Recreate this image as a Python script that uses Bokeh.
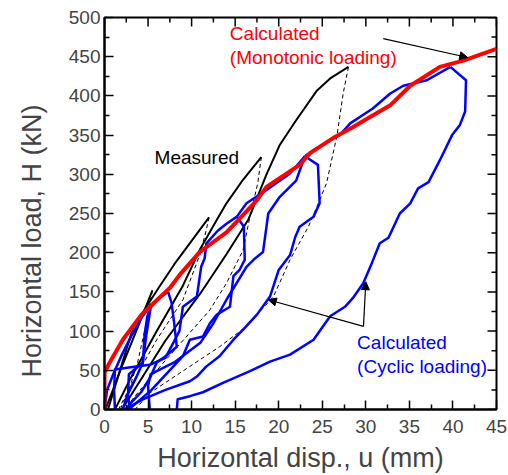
from bokeh.plotting import figure
from bokeh.models import Range1d, FixedTicker, Label, Arrow, NormalHead, Title
from bokeh.embed import file_html
from bokeh.resources import INLINE

# ---------------- data ----------------
x_ticks = [0, 5, 10, 15, 20, 25, 30, 35, 40, 45]
y_ticks = [0, 50, 100, 150, 200, 250, 300, 350, 400, 450, 500]

# Calculated (monotonic loading)
red_x = [0, 0, 0.6, 2.1, 4.25, 5.2, 7.5, 8.65, 10.95, 14.0, 15.9, 17.5, 18.6, 22.4, 23.6, 26.5, 28.5, 30.0, 32.8, 35.1, 38.5, 41.2, 45.0]
red_y = [0, 47, 60, 89, 121, 131, 155, 172, 201, 226, 248, 267, 284, 312, 327, 348, 360, 370, 388, 413, 437, 445, 460]

# Measured: loading branches (solid)
m1_x = [0.1, 2.0, 4.0, 5.5]
m1_y = [0, 55, 110, 152]
m2_x = [0.4, 1.5, 3.3, 6.2, 8.0, 10.0, 12.0]
m2_y = [0, 40, 105, 155, 185, 215, 245]
m3_x = [1.2, 3.0, 6.0, 9.0, 11.0, 12.9, 14.0, 15.9, 18.0]
m3_y = [0, 40, 100, 158, 205, 242, 263, 293, 322]
m4_x = [2.0, 4.0, 7.0, 11.0, 14.0, 16.5, 18.6, 20.1, 22.0, 24.4, 26.0, 28.0]
m4_y = [0, 35, 88, 148, 198, 242, 300, 337, 369, 407, 423, 437]

# Measured: unloading branches (dashed)
d1_x = [5.5, 4.8, 3.8, 2.8, 1.8]
d1_y = [152, 110, 60, 25, 0]
d2_x = [12.0, 11.7, 11.0, 9.0, 6.0, 3.0, 1.6]
d2_y = [245, 230, 199, 140, 89, 30, 0]
d3_x = [18.0, 17.6, 16.7, 15.9, 14.0, 12.1, 9.8, 7.1, 4.4, 3.2, 2.5]
d3_y = [322, 289, 246, 203, 161, 127, 98, 64, 29, 13, 0]
d4_x = [28.0, 27.4, 26.7, 25.5, 24.4, 23.4, 21.3, 19.4, 16.3, 13.2, 9.8, 5.2, 3.5]
d4_y = [437, 403, 350, 289, 259, 233, 191, 144, 106, 80, 55, 21, 0]

# Calculated (cyclic loading) branches
c1_x = [0, 0.3, 1.0, 2.0, 3.0, 4.3, 5.3]
c1_y = [0, 25, 45, 70, 92, 118, 132]
c2_x = [5.3, 4.9, 4.6, 4.4, 3.6, 2.6, 2.1]
c2_y = [132, 118, 95, 60, 40, 18, 0]
c3_x = [2.9, 2.7, 2.8, 4.4, 4.8, 5.3, 6.2, 7.3]
c3_y = [0, 20, 45, 60, 95, 130, 142, 150]
c4_x = [7.3, 7.7, 8.0, 8.3, 7.0, 6.0, 5.2, 4.2, 3.0, 2.4]
c4_y = [150, 136, 110, 80, 68, 60, 40, 22, 8, 0]
c5_x = [1.2, 1.1, 1.2, 3.0, 5.2, 7.0, 8.6, 9.0, 10.6, 11.1, 11.5, 11.7, 13.0, 14.0, 15.2]
c5_y = [0, 25, 51, 54, 57, 66, 100, 131, 144, 182, 193, 212, 228, 237, 246]
c6_x = [15.2, 16.0, 16.1, 15.5, 14.8, 14.4, 12.9, 12.1, 11.3, 9.8, 9.0, 5.4, 3.1, 3.0]
c6_y = [246, 233, 191, 178, 170, 131, 121, 110, 93, 89, 68, 25, 3, 0]
c7_x = [15.2, 16.3, 18.6, 21.3, 23.0]
c7_y = [246, 263, 280, 301, 323]
c8_x = [23.0, 24.5, 24.7, 24.0, 22.4, 21.9, 21.3, 20.0, 19.0, 17.5, 16.1, 14.8, 13.2, 11.7, 10.6, 9.8, 7.0, 4.4, 2.3]
c8_y = [323, 312, 263, 246, 233, 220, 197, 178, 144, 121, 104, 89, 68, 55, 42, 36, 25, 13, 0]
c9_x = [5.2, 5.0, 5.3, 8.0, 11.0, 12.5, 14.0, 16.3, 17.1, 18.2, 18.8, 20.1, 22.0, 23.0]
c9_y = [0, 30, 45, 60, 85, 110, 140, 182, 191, 201, 250, 271, 292, 323]
c10_x = [23.0, 24.0, 25.5, 27.0, 28.2, 30.8, 32.8, 34.3, 37.0, 39.7]
c10_y = [323, 331, 341, 350, 365, 384, 403, 413, 420, 437]
c11_x = [39.7, 41.5, 41.4, 40.8, 39.9, 38.5, 37.2, 36.0, 35.1, 33.9, 32.6, 31.6, 30.7, 29.7, 28.5, 27.6, 25.9, 24.0, 21.3, 19.0, 16.7, 13.6, 11.3, 9.8, 8.4, 8.3]
c11_y = [437, 420, 380, 363, 350, 318, 290, 282, 263, 250, 219, 212, 187, 161, 142, 131, 119, 89, 70, 61, 49, 34, 22, 17, 13, 0]

x_title = "Horizontal disp., u (mm)"
y_title = "Horizontal load, H (kN)"

FONT = "Liberation Sans"

p = figure(width=508, height=475, x_range=Range1d(0, 45), y_range=Range1d(0, 500),
           output_backend="svg", toolbar_location=None,
           min_border_left=104, min_border_right=12, min_border_top=17, min_border_bottom=65)
p.xgrid.visible = False
p.ygrid.visible = False
p.outline_line_color = "black"
p.outline_line_width = 2
p.background_fill_color = "white"
p.border_fill_color = "white"

x_minor = [t + 2.5 for t in x_ticks[:-1]]
y_minor = [t + 25 for t in y_ticks[:-1]]

for ax, ticks, minor in [(p.xaxis[0], x_ticks, x_minor), (p.yaxis[0], y_ticks, y_minor)]:
    ax.ticker = FixedTicker(ticks=ticks, minor_ticks=minor)
    ax.major_tick_in = 9
    ax.major_tick_out = 0
    ax.minor_tick_in = 5
    ax.minor_tick_out = 0
    ax.major_tick_line_width = 1.5
    ax.minor_tick_line_width = 1.5
    ax.axis_line_width = 2
    ax.major_label_text_font = FONT
    ax.major_label_text_font_size = "19px"
    ax.axis_label_text_font = FONT
    ax.axis_label_text_font_size = "27px"
    ax.axis_label_text_font_style = "normal"
p.xaxis[0].major_label_standoff = 10
p.yaxis[0].major_label_standoff = 4
p.xaxis[0].axis_label = x_title
p.xaxis[0].axis_label_standoff = 7

# y title as a side title so it can be shifted along the axis
p.add_layout(Title(text=y_title, align="left", offset=32, standoff=33, vertical_align="top",
                   text_font=FONT, text_font_size="27px", text_font_style="normal"), "left")

# mirrored ticks on top and right edges
p.ray(x=x_ticks, y=500, length=9, angle=-90, angle_units="deg", length_units="screen",
      line_color="black", line_width=1.5)
p.ray(x=x_minor, y=500, length=5, angle=-90, angle_units="deg", length_units="screen",
      line_color="black", line_width=1.5)
p.ray(x=45, y=y_ticks, length=9, angle=180, angle_units="deg", length_units="screen",
      line_color="black", line_width=1.5)
p.ray(x=45, y=y_minor, length=5, angle=180, angle_units="deg", length_units="screen",
      line_color="black", line_width=1.5)

# measured
for xs, ys in [(m1_x, m1_y), (m2_x, m2_y), (m3_x, m3_y), (m4_x, m4_y)]:
    p.line(xs, ys, line_color="black", line_width=2, line_join="round")
for xs, ys in [(d1_x, d1_y), (d2_x, d2_y), (d3_x, d3_y), (d4_x, d4_y)]:
    p.line(xs, ys, line_color="black", line_width=1, line_dash="4 3")

# calculated cyclic
for xs, ys in [(c1_x, c1_y), (c2_x, c2_y), (c3_x, c3_y), (c4_x, c4_y), (c5_x, c5_y),
               (c6_x, c6_y), (c7_x, c7_y), (c8_x, c8_y), (c9_x, c9_y), (c10_x, c10_y),
               (c11_x, c11_y)]:
    p.line(xs, ys, line_color="#0000ff", line_width=2.5, line_join="round")

# calculated monotonic
p.line(red_x, red_y, line_color="#ff0000", line_width=4, line_join="round")

# annotations
def lab(x, y, text, color="black", size="19px", **kw):
    p.add_layout(Label(x=x, y=y, text=text, text_color=color, text_font=FONT,
                       text_font_size=size, **kw))

lab(5.75, 322, "Measured", text_baseline="middle")
lab(14.39, 479.6, "Calculated", "#ff0000", text_baseline="middle")
lab(14.39, 449, "(Monotonic loading)", "#ff0000", text_baseline="middle")
lab(29.0, 85.2, "Calculated", "#0000ff", text_baseline="middle")
lab(29.0, 54.7, "(Cyclic loading)", "#0000ff", text_baseline="middle")

def arrow(x0, y0, x1, y1):
    p.add_layout(Arrow(end=NormalHead(size=8, fill_color="black", line_color="black", line_width=1),
                       x_start=x0, y_start=y0, x_end=x1, y_end=y1,
                       line_color="black", line_width=1.2))

arrow(32.0, 473, 41.7, 449)
arrow(29.73, 106, 30.0, 163)
arrow(29.73, 106, 18.8, 140)

open("out.html", "w").write(file_html(p, INLINE))
